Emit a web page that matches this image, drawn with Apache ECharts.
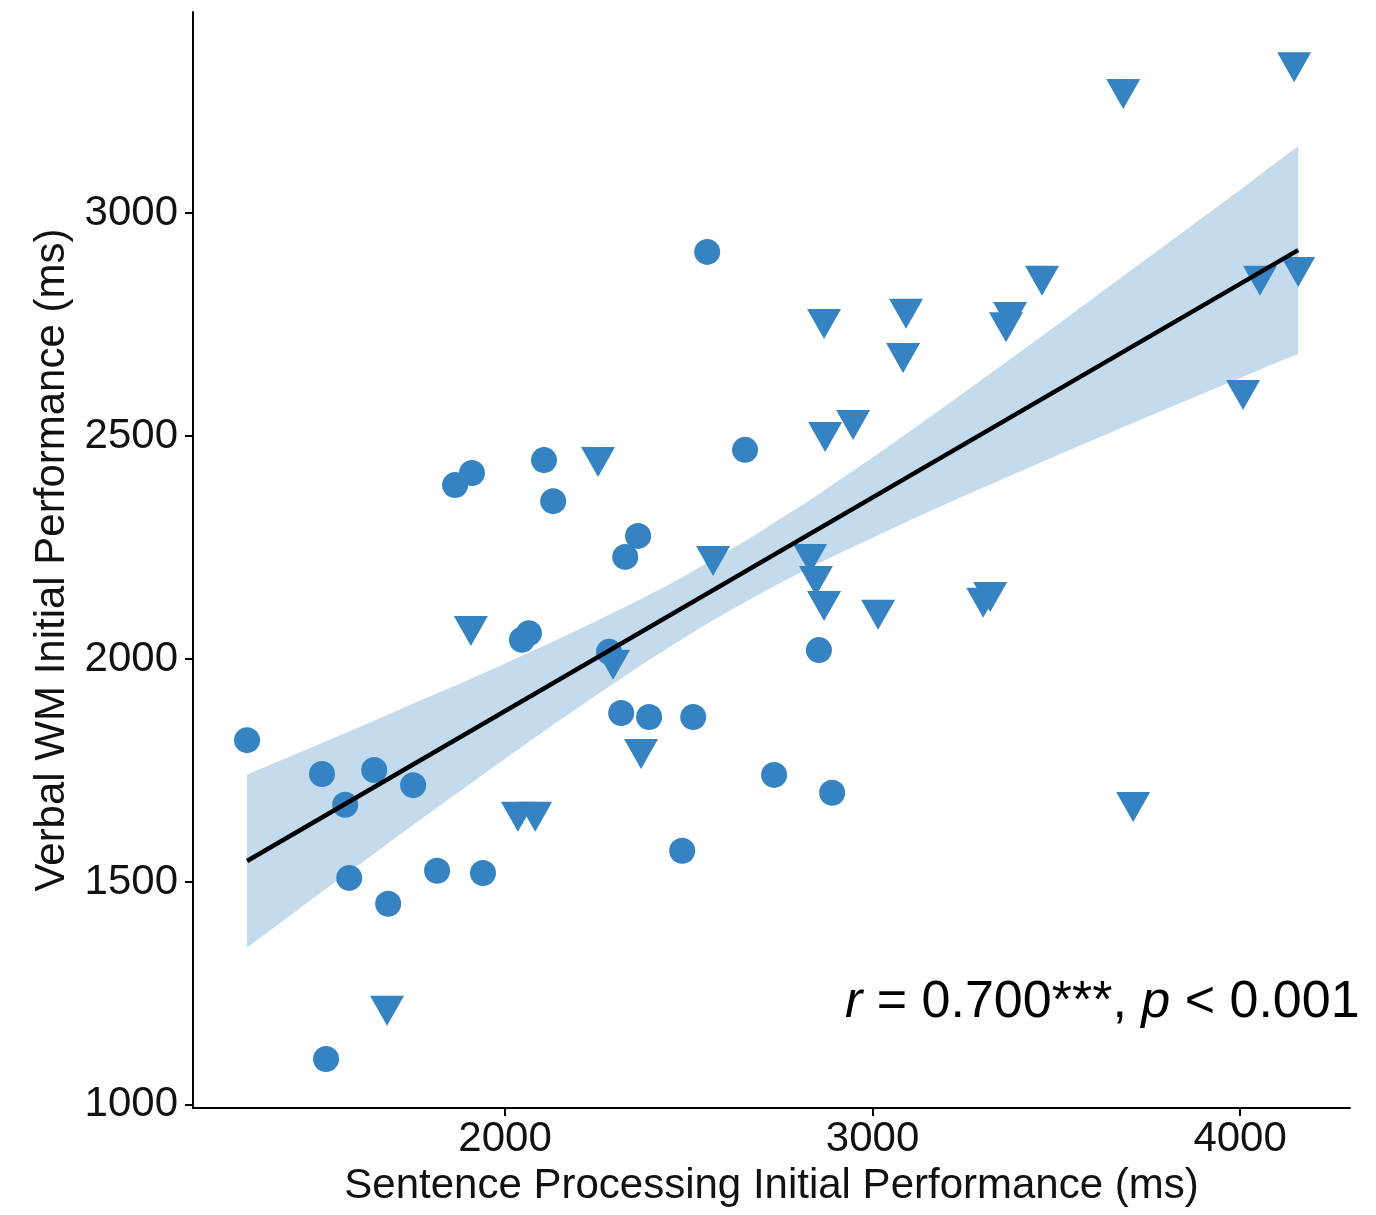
<!DOCTYPE html>
<html>
<head>
<meta charset="utf-8">
<script src="https://cdn.jsdelivr.net/npm/echarts@6/dist/echarts.min.js"></script>
<style>
  html, body { margin: 0; padding: 0; background: #fff; }
  #chart { width: 1376px; height: 1215px; }
</style>
</head>
<body>
<div id="chart"></div>
<script>
// ---- Data ----
const xTicks = [2000, 3000, 4000];
const yTicks = [1000, 1500, 2000, 2500, 3000];

// Circles group: [x, y]
const circleX = [1298, 1502, 1644, 1565, 1750, 1576, 1682, 1815, 1940, 1513,
                 1864, 1910, 2106, 2131, 2362, 2327, 2046, 2065, 2550, 2653,
                 2316, 2392, 2512, 2482, 2732, 2890, 2854, 2283];
const circleY = [1818, 1742, 1751, 1673, 1717, 1509, 1451, 1525, 1520, 1103,
                 2390, 2417, 2446, 2354, 2276, 2229, 2043, 2058, 2913, 2469,
                 1879, 1870, 1870, 1570, 1740, 1700, 2020, 2016];

// Triangles group
const triX = [1679, 2035, 2082, 1907, 2253, 2294, 2370, 2566, 2830, 2846,
              2868, 3015, 2868, 2871, 2947, 3091, 3083, 3301, 3320, 3374,
              3363, 3461, 3682, 4147, 4054, 4158, 4008, 3709];
const triY = [1211, 1646, 1646, 2063, 2442, 1987, 1787, 2220, 2224, 2175,
              2119, 2099, 2751, 2498, 2525, 2774, 2675, 2126, 2139, 2767,
              2744, 2848, 3267, 3327, 2848, 2868, 2592, 1668];

// Regression line endpoints
const fitX = [1298, 4158];
const fitY = [1547, 2917];

// Confidence band
const bandX     = [1298, 1400, 1500, 1625, 1750, 1875, 2000, 2125, 2250, 2375, 2450, 2500, 2550, 2600, 2650,
                   2700, 2750, 2825, 2900, 3000, 3125, 3250, 3375, 3500, 3625, 3750, 3875, 4000, 4080, 4158];
const bandUpper = [1741, 1776, 1811, 1855, 1900, 1944, 1990, 2037, 2086, 2137, 2169, 2192, 2215, 2239, 2263,
                   2288, 2315, 2354, 2396, 2452, 2524, 2598, 2673, 2748, 2824, 2900, 2976, 3052, 3102, 3150];
const bandLower = [1353, 1415, 1477, 1552, 1628, 1702, 1776, 1849, 1920, 1989, 2028, 2054, 2079, 2103, 2126,
                   2149, 2171, 2203, 2233, 2272, 2320, 2366, 2411, 2456, 2500, 2544, 2587, 2630, 2658, 2684];

const xTitle = 'Sentence Processing Initial Performance (ms)';
const yTitle = 'Verbal WM Initial Performance (ms)';

// ---- Build ----
const pts = (xs, ys) => xs.map((x, i) => [x, ys[i]]);
const FONT = "'Liberation Sans', Arial, sans-serif";
const MARK = '#3583c2';
const plain = v => String(v);

const chart = echarts.init(document.getElementById('chart'), null, { renderer: 'canvas' });

const option = {
  backgroundColor: '#ffffff',
  animation: false,
  grid: { left: 193, right: 26, top: 12, bottom: 107, containLabel: false },
  xAxis: {
    type: 'value', min: 1151, max: 4299,
    axisLine: { show: true, onZero: false, lineStyle: { color: '#000', width: 2 } },
    axisTick: { show: true, length: 8, lineStyle: { color: '#000', width: 2 }, customValues: xTicks },
    axisLabel: { customValues: xTicks, formatter: plain, fontSize: 42, margin: 10, color: '#111', fontFamily: FONT },
    splitLine: { show: false },
    name: xTitle, nameLocation: 'middle', nameGap: 57,
    nameTextStyle: { fontSize: 42, color: '#111', fontFamily: FONT }
  },
  yAxis: {
    type: 'value', min: 993, max: 3451,
    axisLine: { show: true, onZero: false, lineStyle: { color: '#000', width: 2 } },
    axisTick: { show: true, length: 8, lineStyle: { color: '#000', width: 2 }, customValues: yTicks },
    axisLabel: { customValues: yTicks, formatter: plain, fontSize: 42, margin: 15, color: '#111', fontFamily: FONT },
    splitLine: { show: false },
    name: yTitle, nameLocation: 'middle', nameGap: 99, nameRotate: 90,
    nameTextStyle: { fontSize: 42, color: '#111', fontFamily: FONT }
  },
  series: [
    {
      type: 'custom',
      z: 1,
      silent: true,
      data: [[bandX[0], bandLower[0]]],
      renderItem: function (params, api) {
        const poly = [];
        for (let i = 0; i < bandX.length; i++) poly.push(api.coord([bandX[i], bandUpper[i]]));
        for (let i = bandX.length - 1; i >= 0; i--) poly.push(api.coord([bandX[i], bandLower[i]]));
        return { type: 'polygon', shape: { points: poly }, style: { fill: '#c4dbee' } };
      }
    },
    {
      type: 'scatter', z: 3,
      data: pts(circleX, circleY),
      symbol: 'circle', symbolSize: 26,
      itemStyle: { color: MARK, opacity: 1 }
    },
    {
      type: 'scatter', z: 3,
      data: pts(triX, triY),
      symbol: 'triangle', symbolSize: [34, 30], symbolRotate: 180,
      itemStyle: { color: MARK, opacity: 1 }
    },
    {
      type: 'line', z: 5,
      data: pts(fitX, fitY),
      symbol: 'none',
      lineStyle: { color: '#000', width: 4.5 }
    }
  ],
  graphic: [
    {
      type: 'text', z: 10,
      left: 845, top: 977,
      style: {
        text: '{i|r} = 0.700***, {i|p} < 0.001',
        fontSize: 52, fontFamily: FONT, fill: '#000',
        rich: { i: { fontStyle: 'italic', fontSize: 52, fontFamily: FONT, color: '#000' } }
      }
    }
  ]
};
chart.setOption(option);
</script>
</body>
</html>
